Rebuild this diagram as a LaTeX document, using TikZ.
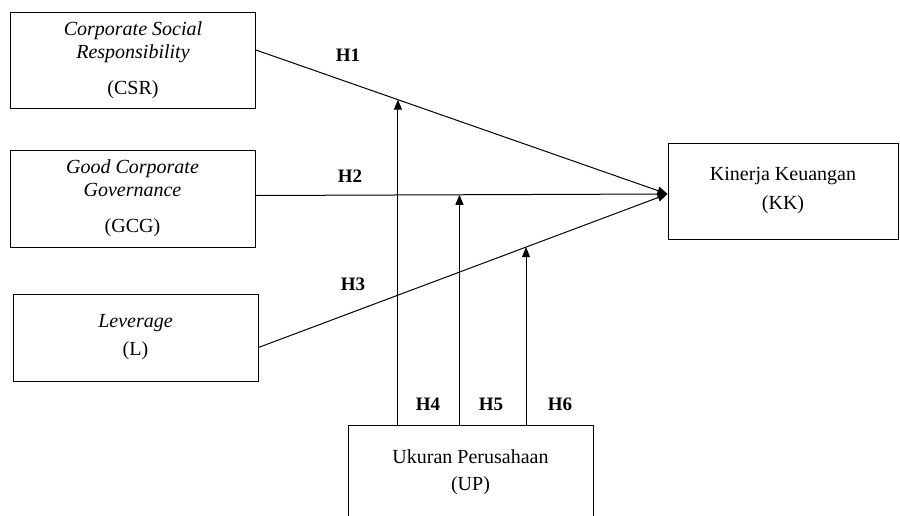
\documentclass[tikz,border=0pt]{standalone}
\usepackage{fontspec}
\setmainfont{Liberation Serif}
\usetikzlibrary{arrows.meta,calc}
\tikzset{
  varbox/.style={draw, line width=0.9pt, align=center, inner sep=0pt,
    minimum width=245pt, font=\fontsize{20}{23}\selectfont},
  hlabel/.style={font=\fontsize{19}{22}\selectfont\bfseries},
  path/.style={line width=1pt, -{Triangle[length=10pt,width=8pt]}}
}
\begin{document}
\begin{tikzpicture}[x=1pt,y=-1pt]
  \useasboundingbox (0,0) rectangle (900,515);
  \clip (0,0) rectangle (900,515);
  \node[varbox, minimum height=96pt] (csr) at (133,60)
    {\itshape Corporate Social\\\itshape Responsibility\\[13pt](CSR)};
  \node[varbox, minimum height=97pt] (gcg) at (132.5,198.5)
    {\itshape Good Corporate\\\itshape Governance\\[13pt](GCG)};
  \node[varbox, minimum height=87pt] (lev) at (135.5,337.5)
    {\itshape Leverage\\[5pt](L)};
  \node[varbox, minimum width=230pt, minimum height=96pt] (kk) at (783,191)
    {Kinerja Keuangan\\[6pt](KK)};
  \node[varbox, minimum height=94pt] (up) at (470.5,472)
    {Ukuran Perusahaan\\[4pt](UP)};
  \coordinate (tip) at ([yshift=-3pt]kk.west);
  \coordinate (csrout) at ([yshift=10pt]csr.east);
  \coordinate (gcgout) at ([yshift=3pt]gcg.east);
  \coordinate (levout) at ([yshift=-10pt]lev.east);
  \draw[path] (csrout) -- (tip);
  \draw[path] (gcgout) -- (tip);
  \draw[path] (levout) -- (tip);
  \coordinate (m4) at ($(csrout)!0.345!(tip)$);
  \coordinate (m5) at ($(gcgout)!0.495!(tip)$);
  \coordinate (m6) at ($(levout)!0.654!(tip)$);
  \draw[path] (up.north -| m4) -- (m4);
  \draw[path] (up.north -| m5) -- (m5);
  \draw[path] (up.north -| m6) -- (m6);
  \node[hlabel] (h1) at (348,55) {H1};
  \node[hlabel] (h2) at (350,176) {H2};
  \node[hlabel] (h3) at (353,284) {H3};
  \node[hlabel] (h4) at (428,404) {H4};
  \node[hlabel] (h5) at (491,404) {H5};
  \node[hlabel] (h6) at (560,404) {H6};
\end{tikzpicture}
\end{document}
